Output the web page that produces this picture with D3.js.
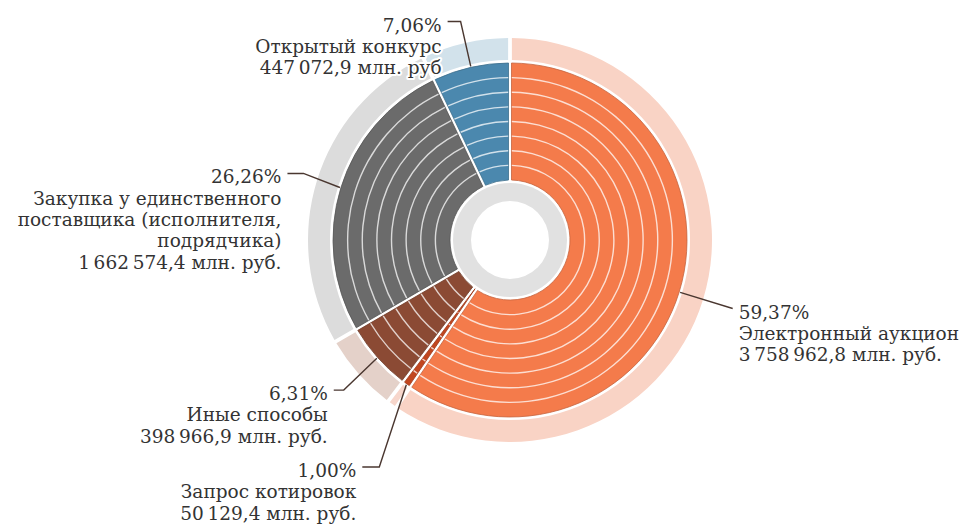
<!DOCTYPE html>
<html><head><meta charset="utf-8">
<script src="https://cdn.jsdelivr.net/npm/d3@7"></script>
<style>
html,body{margin:0;padding:0;background:#fff;}
text{font-family:"DejaVu Serif",serif;fill:#333333;}
</style></head>
<body><svg id="chart" width="965" height="524"></svg>
<script>
// ---- data ----
const categories = ["Электронный аукцион", "Запрос котировок", "Иные способы",
  "Закупка у единственного поставщика (исполнителя, подрядчика)", "Открытый конкурс"];
const labelLines = [
  ["Электронный аукцион"],
  ["Запрос котировок"],
  ["Иные способы"],
  ["Закупка у единственного", "поставщика (исполнителя,", "подрядчика)"],
  ["Открытый конкурс"]
];
const sharePct = [59.37, 1.00, 6.31, 26.26, 7.06];
const amounts = [3758962.8, 50129.4, 398966.9, 1662574.4, 447072.9];
const unitText = ["млн. руб.", "млн. руб.", "млн. руб.", "млн. руб.", "млн. руб"];

// ---- styles ----
const colors = ["#f47b4b", "#c2461f", "#8b4a34", "#6b6b6b", "#4b88ae"];
const lightColors = ["#f9d3c5", "#f7d6cb", "#e4d1c9", "#dcdcdc", "#d2e2eb"];

const ru = d3.formatLocale({decimal: ",", thousands: "\u202f", grouping: [3], currency: ["", ""]});
const fmtAmt = v => ru.format(",.1f")(v);
const fmtPct = v => ru.format(".2f")(v) + "%";

const svg = d3.select("#chart");
const cx = 510, cy = 240;
const rIn = 60, rOut = 177, ringIn = 180, ringOut = 202;
const g = svg.append("g").attr("transform", `translate(${cx},${cy})`);

const pie = d3.pie().sort(null).value(d => d)(amounts);
const rad = Math.PI / 180;
const polar = (a, r) => [Math.sin(a) * r, -Math.cos(a) * r];

// label layout: elbow radius, angle offset (deg), horizontal dash, side
const layout = [
  {r: 233, off: 0, dash: 0, side: 1},
  {r: 262, off: -5.7, dash: 17, side: -1},
  {r: 224, off: -0.5, dash: 10, side: -1},
  {r: 217, off: 0.7, dash: 16, side: -1},
  {r: 224, off: 0, dash: 13, side: -1}
];
const lh = 21.3;

// center ring
g.append("circle").attr("r", 57).attr("fill", "#e1e1e1");
g.append("circle").attr("r", 39).attr("fill", "#ffffff");

// outer light ring
const ringArc = d3.arc().innerRadius(ringIn).outerRadius(ringOut).padAngle(0.014);
g.append("g").selectAll("path").data(pie).join("path")
  .attr("d", ringArc).attr("fill", (d, i) => lightColors[i]);

// main slices
const arc = d3.arc().innerRadius(rIn).outerRadius(rOut).padAngle(0.02).padRadius(150);
g.append("g").selectAll("path").data(pie).join("path")
  .attr("d", arc).attr("fill", (d, i) => colors[i])
  .attr("stroke", (d, i) => d3.color(colors[i]).darker(0.6)).attr("stroke-width", 0.8);

// concentric bands inside each slice
const nBands = 8;
const bandR = d3.range(1, nBands).map(k => rIn + k * (rOut - rIn) / nBands);
const bandG = g.append("g");
pie.forEach((p, i) => {
  bandR.forEach(r => {
    const trim = 0.012 * 150 / r;
    if (p.endAngle - p.startAngle > 2 * trim) {
      const thin = d3.arc().innerRadius(r - 0.7).outerRadius(r + 0.7)
        .startAngle(p.startAngle + trim).endAngle(p.endAngle - trim);
      bandG.append("path").attr("d", thin()).attr("fill", "rgba(255,255,255,0.75)");
    }
  });
});

// labels (with white halo)
const labelG = g.append("g");
pie.forEach((p, i) => {
  const L = layout[i];
  const mid = (p.startAngle + p.endAngle) / 2 + L.off * rad;
  const e = polar(mid, L.r);
  const endX = e[0] + L.side * L.dash;
  const tx = endX + L.side * 6;
  const base = e[1] + 10;
  const lines = [fmtPct(sharePct[i]), ...labelLines[i], fmtAmt(amounts[i]) + " " + unitText[i]];
  const t = labelG.append("text")
    .attr("text-anchor", L.side > 0 ? "start" : "end")
    .attr("font-size", 18.5)
    .attr("stroke", "#ffffff").attr("stroke-width", 4)
    .attr("stroke-linejoin", "round").attr("paint-order", "stroke");
  lines.forEach((s, k) => t.append("tspan").attr("x", tx).attr("y", base + k * lh).text(s));
});

// leader lines
const lineG = g.append("g");
pie.forEach((p, i) => {
  const L = layout[i];
  const midA = (p.startAngle + p.endAngle) / 2;
  const s = polar(midA, rOut + 1);
  const e = polar(midA + L.off * rad, L.r);
  const pts = [s, e, [e[0] + L.side * L.dash, e[1]]];
  lineG.append("path").attr("d", d3.line()(pts))
    .attr("fill", "none").attr("stroke", "#4a3730").attr("stroke-width", 1.4);
});
</script></body></html>
